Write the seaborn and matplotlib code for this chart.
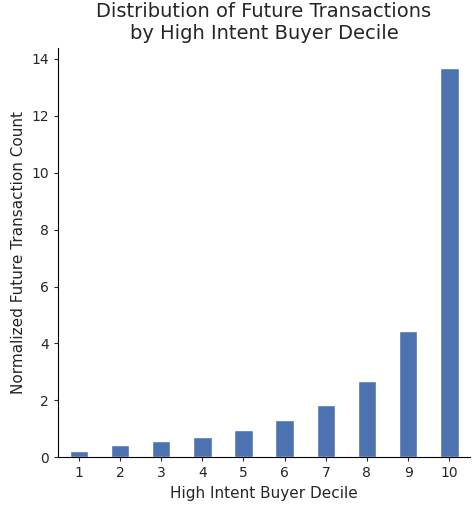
import matplotlib
matplotlib.use("Agg")
import matplotlib.pyplot as plt
import seaborn as sns
import pandas as pd

deciles = ["1","2","3","4","5","6","7","8","9","10"]
values = [0.22, 0.43, 0.56, 0.72, 0.97, 1.30, 1.83, 2.68, 4.43, 13.70]

sns.set_style("white")
fig = plt.figure(figsize=(4.77, 5.12), dpi=100)
ax = fig.add_axes([0.122, 0.107, 0.863, 0.8])
df = pd.DataFrame({"decile": deciles, "value": values})
sns.barplot(data=df, x="decile", y="value", color="#4c72b0", saturation=1, width=0.45, ax=ax)
sns.despine(ax=ax)
ax.set_ylim(0, 14.4)
ax.set_yticks(range(0, 15, 2))
ax.tick_params(axis="both", labelsize=10, length=3, left=True, bottom=True)
ax.set_xlabel("High Intent Buyer Decile", fontsize=11)
ax.set_ylabel("Normalized Future Transaction Count", fontsize=11)
ax.set_title("Distribution of Future Transactions\nby High Intent Buyer Decile", fontsize=14)
for s in ["left", "bottom"]:
    ax.spines[s].set_color("black")
fig.savefig("out.png", dpi=100)
